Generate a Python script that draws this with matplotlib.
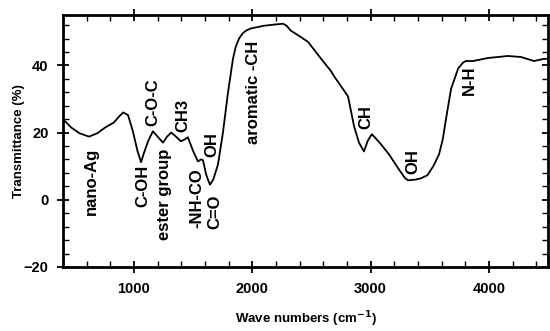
import matplotlib
matplotlib.use('Agg')
import matplotlib.pyplot as plt
from matplotlib.ticker import MultipleLocator

plt.rcParams['font.family'] = 'Liberation Sans'
plt.rcParams['font.weight'] = 'bold'

# FTIR spectrum
wavenumber = [400, 470, 540, 620, 690, 760, 830, 880, 910, 950, 990, 1030, 1060,
              1085, 1120, 1160, 1200, 1245, 1280, 1315, 1355, 1397, 1430, 1456,
              1500, 1541, 1565, 1583, 1610, 1642, 1670, 1710, 1752, 1795, 1837,
              1860, 1888, 1920, 1950, 1989, 2099, 2200, 2260, 2290, 2327, 2395,
              2471, 2581, 2665, 2691, 2809, 2860, 2902, 2944, 2975, 3010, 3030,
              3088, 3156, 3240, 3290, 3316, 3380, 3426, 3480, 3530, 3578, 3610,
              3637, 3680, 3739, 3780, 3806, 3866, 3992, 4161, 4271, 4381, 4458,
              4500]
transmittance = [24.0, 21.5, 19.8, 18.8, 19.8, 21.6, 23.0, 25.0, 26.0, 25.2, 20.5,
                 14.5, 11.2, 14.0, 17.5, 20.4, 18.8, 17.0, 18.8, 20.0, 18.8, 17.4,
                 18.0, 18.6, 14.5, 11.4, 12.0, 11.8, 7.5, 4.5, 6.0, 10.5, 20.0,
                 32.0, 42.0, 45.5, 48.0, 49.6, 50.4, 51.0, 51.8, 52.2, 52.4, 51.8,
                 50.3, 48.8, 47.0, 42.0, 38.3, 36.8, 30.8, 21.9, 17.0, 14.4, 17.5,
                 19.5, 18.8, 16.5, 13.5, 9.0, 6.5, 5.8, 6.0, 6.4, 7.3, 10.0, 13.5,
                 18.0, 24.0, 33.0, 39.0, 40.8, 41.3, 41.3, 42.2, 42.8, 42.5, 41.3,
                 41.9, 42.0]

# band labels: text, x, y
band_text = ['nano-Ag', 'C-OH', 'C-O-C', 'ester group', 'CH3', '-NH-CO', 'OH',
             'C=O', 'aromatic -CH', 'CH', 'OH', 'N-H']
band_x = [637, 1076, 1160, 1262, 1414, 1532, 1659, 1685, 2014, 2961, 3358, 3832]
band_y = [5.4, 4.2, 29, 1.5, 25, 0.6, 16.5, -3.6, 32, 24.6, 11.4, 35.6]

fig = plt.figure(figsize=(5.5, 3.31), dpi=100)
ax = fig.add_axes([0.1145, 0.1934, 0.882, 0.7613])
ax.plot(wavenumber, transmittance, color='black', lw=1.3)

for t, x, y in zip(band_text, band_x, band_y):
    ax.text(x, y, t, rotation=90, ha='center', va='center', fontsize=12,
            fontweight='bold')

ax.set_xlim(400, 4500)
ax.set_ylim(-20, 55)
ax.set_xticks([1000, 2000, 3000, 4000])
ax.set_yticks([-20, 0, 20, 40])
ax.xaxis.set_minor_locator(MultipleLocator(200))
ax.yaxis.set_minor_locator(MultipleLocator(4))
ax.tick_params(which='major', direction='inout', length=9, width=1.3,
               top=True, right=True, labelsize=10.5, pad=6)
ax.tick_params(which='minor', direction='in', length=4, width=1,
               top=True, right=True)
for s in ax.spines.values():
    s.set_linewidth(2)

ax.set_xlabel('Wave numbers (cm$^{\\mathbf{-1}}$)', fontsize=9.5,
              fontweight='bold', labelpad=10)
ax.set_ylabel('Transmittance (%)', fontsize=9.5, fontweight='bold', labelpad=-1)

fig.savefig('out.png', dpi=100)
